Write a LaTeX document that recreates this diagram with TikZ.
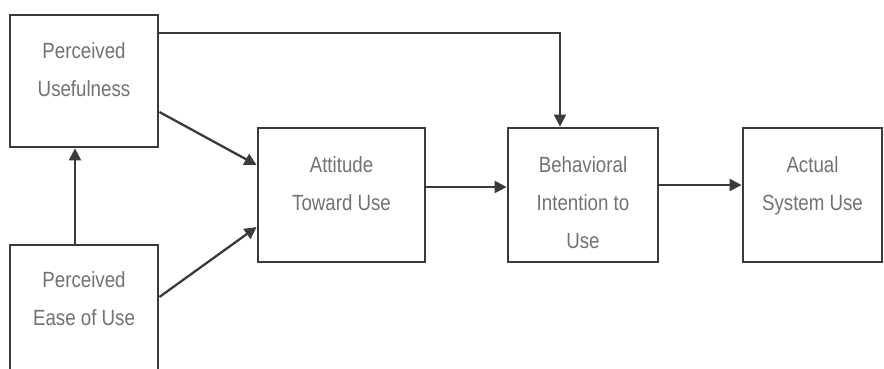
\documentclass[tikz,border=0pt]{standalone}
\usepackage{fontspec}
\setmainfont[FakeStretch=0.85]{Liberation Sans}
\usetikzlibrary{arrows.meta}
\definecolor{linec}{HTML}{3A3A3A}
\definecolor{txtc}{HTML}{727272}
\begin{document}
\begin{tikzpicture}[x=1pt,y=-1pt,
 box/.style={draw=linec, line width=2.8pt, inner sep=0pt, rectangle},
 lbl/.style={anchor=north, align=center, text=txtc, font=\fontsize{22}{38}\selectfont, inner sep=0pt},
 conn/.style={draw=linec, line width=2.3pt, -{Triangle[length=12pt,width=12pt]}}]
\useasboundingbox (0,0) rectangle (884,369);
\clip (0,0) rectangle (884,369);
\fill[white] (0,0) rectangle (884,369);
% boxes
\node[box, minimum width=148pt, minimum height=132pt] (pu) at (84,81) {};
\node[box, minimum width=148pt, minimum height=140pt] (peou) at (84,315) {};
\node[box, minimum width=167pt, minimum height=134pt] (att) at (341.5,195) {};
\node[box, minimum width=150pt, minimum height=134pt] (bi) at (583,195) {};
\node[box, minimum width=139pt, minimum height=134pt] (asu) at (812.5,195) {};
% texts
\node[lbl] (put) at (84,42) {Perceived\\Usefulness};
\node[lbl] (peout) at (84,271) {Perceived\\Ease of Use};
\node[lbl] (attt) at (341.5,156) {Attitude\\Toward Use};
\node[lbl] (bit) at (583,156) {Behavioral\\Intention to\\Use};
\node[lbl] (asut) at (812.5,156) {Actual\\System Use};
% connectors
\coordinate (turn) at (560,33);
\coordinate (x75) at (75,0);
\draw[conn] (turn -| pu.east) -- (turn) -- (turn |- bi.north);
\draw[conn] ([yshift=-31pt]pu.east) -- ([yshift=30pt]att.west);
\draw[conn] ([yshift=18pt]peou.east) -- ([yshift=-32pt]att.west);
\draw[conn] (peou.north -| x75) -- (pu.south -| x75);
\draw[conn] ([yshift=8pt]att.east) -- ([yshift=8pt]att.east -| bi.west);
\draw[conn] ([yshift=10pt]bi.east) -- ([yshift=10pt]bi.east -| asu.west);
\end{tikzpicture}
\end{document}
